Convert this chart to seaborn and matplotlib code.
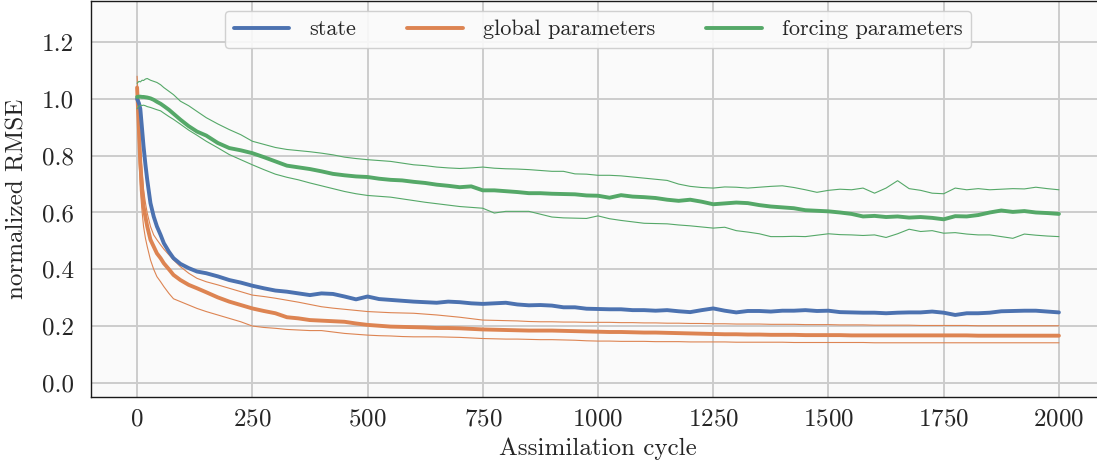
import matplotlib

matplotlib.use("Agg")

import matplotlib.pyplot as plt
import numpy as np
import pandas as pd
import seaborn as sns

cycles = [0, 4, 7, 11, 14, 18, 22, 29, 36, 43, 51, 58, 69, 79, 94, 112, 130, 150] + list(range(175, 2001, 25))

state = [
    1.000, 0.985, 0.965, 0.890, 0.833, 0.770, 0.715, 0.633, 0.586, 0.551, 0.521, 0.492, 0.462, 0.439, 0.419, 0.404, 0.392, 0.386,
    0.375, 0.362, 0.353, 0.342, 0.333, 0.325, 0.321, 0.315, 0.309, 0.315, 0.313, 0.304, 0.294, 0.304, 0.295,
    0.292, 0.289, 0.286, 0.284, 0.282, 0.286, 0.284, 0.280, 0.278, 0.280, 0.282, 0.276, 0.273, 0.274, 0.272,
    0.266, 0.266, 0.261, 0.260, 0.259, 0.259, 0.256, 0.256, 0.254, 0.256, 0.252, 0.249, 0.256, 0.262, 0.254,
    0.248, 0.253, 0.253, 0.251, 0.254, 0.254, 0.256, 0.253, 0.254, 0.249, 0.248, 0.247, 0.247, 0.245, 0.247,
    0.248, 0.248, 0.251, 0.247, 0.239, 0.245, 0.245, 0.247, 0.252, 0.253, 0.254, 0.254, 0.251, 0.248,
]

global_mean = [
    1.040, 0.892, 0.774, 0.680, 0.621, 0.585, 0.551, 0.504, 0.480, 0.456, 0.439, 0.421, 0.400, 0.380, 0.362, 0.345, 0.333, 0.319,
    0.301, 0.286, 0.274, 0.262, 0.253, 0.245, 0.231, 0.227, 0.221, 0.219, 0.217, 0.215, 0.209, 0.204, 0.201,
    0.198, 0.197, 0.196, 0.195, 0.193, 0.193, 0.192, 0.190, 0.188, 0.187, 0.186, 0.185, 0.184, 0.184, 0.184,
    0.183, 0.182, 0.181, 0.180, 0.179, 0.179, 0.178, 0.177, 0.177, 0.176, 0.175, 0.174, 0.173, 0.172, 0.171,
    0.171, 0.170, 0.170, 0.169, 0.169, 0.169, 0.168, 0.168, 0.168, 0.168, 0.167, 0.167, 0.167, 0.167, 0.167,
    0.167, 0.167, 0.167, 0.167, 0.167, 0.167, 0.166, 0.166, 0.166, 0.166, 0.166, 0.166, 0.166, 0.166,
]

global_upper = [
    1.080, 0.950, 0.833, 0.740, 0.680, 0.635, 0.598, 0.551, 0.521, 0.504, 0.486, 0.471, 0.451, 0.433, 0.409, 0.386, 0.368, 0.356,
    0.345, 0.333, 0.321, 0.309, 0.304, 0.298, 0.291, 0.284, 0.276, 0.268, 0.263, 0.259, 0.255, 0.251, 0.249,
    0.247, 0.246, 0.245, 0.242, 0.239, 0.235, 0.231, 0.226, 0.221, 0.220, 0.219, 0.218, 0.216, 0.215, 0.215,
    0.214, 0.214, 0.213, 0.213, 0.213, 0.212, 0.212, 0.211, 0.211, 0.210, 0.210, 0.209, 0.209, 0.208, 0.208,
    0.207, 0.207, 0.207, 0.206, 0.206, 0.206, 0.205, 0.205, 0.205, 0.204, 0.204, 0.204, 0.203, 0.203, 0.203,
    0.203, 0.202, 0.202, 0.202, 0.202, 0.202, 0.201, 0.201, 0.201, 0.201, 0.201, 0.201, 0.201, 0.201,
]

global_lower = [
    1.000, 0.800, 0.680, 0.600, 0.551, 0.510, 0.480, 0.433, 0.400, 0.374, 0.356, 0.339, 0.315, 0.296, 0.286, 0.274, 0.262, 0.251,
    0.239, 0.227, 0.215, 0.200, 0.195, 0.192, 0.188, 0.186, 0.184, 0.184, 0.179, 0.174, 0.171, 0.168, 0.166,
    0.165, 0.163, 0.162, 0.162, 0.162, 0.161, 0.160, 0.158, 0.156, 0.155, 0.154, 0.154, 0.153, 0.152, 0.152,
    0.151, 0.150, 0.148, 0.147, 0.147, 0.146, 0.146, 0.146, 0.145, 0.145, 0.145, 0.144, 0.144, 0.144, 0.144,
    0.143, 0.143, 0.143, 0.143, 0.143, 0.142, 0.142, 0.142, 0.142, 0.142, 0.142, 0.142, 0.141, 0.141, 0.141,
    0.141, 0.141, 0.141, 0.141, 0.141, 0.141, 0.141, 0.141, 0.141, 0.141, 0.141, 0.141, 0.141, 0.141,
]

forcing_mean = [
    1.007, 1.008, 1.008, 1.007, 1.007, 1.006, 1.005, 1.002, 0.997, 0.990, 0.983, 0.975, 0.962, 0.948, 0.927, 0.904, 0.885, 0.871,
    0.845, 0.827, 0.819, 0.809, 0.795, 0.780, 0.765, 0.759, 0.753, 0.745, 0.736, 0.731, 0.727, 0.725, 0.719,
    0.715, 0.713, 0.708, 0.704, 0.698, 0.694, 0.689, 0.692, 0.678, 0.678, 0.675, 0.672, 0.668, 0.668, 0.666,
    0.665, 0.664, 0.660, 0.659, 0.652, 0.661, 0.656, 0.654, 0.651, 0.645, 0.641, 0.645, 0.638, 0.629, 0.632,
    0.635, 0.633, 0.626, 0.621, 0.618, 0.615, 0.608, 0.606, 0.604, 0.600, 0.595, 0.586, 0.588, 0.584, 0.586,
    0.582, 0.584, 0.581, 0.576, 0.587, 0.586, 0.591, 0.600, 0.607, 0.602, 0.605, 0.600, 0.598, 0.595,
]

forcing_upper = [
    1.055, 1.062, 1.060, 1.066, 1.065, 1.070, 1.072, 1.066, 1.062, 1.058, 1.050, 1.040, 1.027, 1.015, 0.992, 0.976, 0.956, 0.934,
    0.912, 0.892, 0.874, 0.851, 0.840, 0.829, 0.822, 0.818, 0.814, 0.809, 0.803, 0.795, 0.790, 0.786, 0.783,
    0.780, 0.774, 0.768, 0.765, 0.760, 0.757, 0.755, 0.757, 0.760, 0.756, 0.754, 0.753, 0.751, 0.748, 0.745,
    0.745, 0.736, 0.735, 0.731, 0.731, 0.729, 0.725, 0.721, 0.717, 0.713, 0.700, 0.692, 0.688, 0.686, 0.690,
    0.689, 0.686, 0.689, 0.692, 0.694, 0.688, 0.680, 0.671, 0.678, 0.682, 0.680, 0.686, 0.668, 0.686, 0.712,
    0.684, 0.678, 0.668, 0.666, 0.686, 0.680, 0.684, 0.680, 0.682, 0.684, 0.683, 0.689, 0.684, 0.680,
]

forcing_lower = [
    0.965, 0.975, 0.978, 0.977, 0.978, 0.976, 0.973, 0.970, 0.966, 0.962, 0.958, 0.950, 0.938, 0.928, 0.911, 0.890, 0.872, 0.851,
    0.828, 0.804, 0.786, 0.768, 0.751, 0.735, 0.724, 0.715, 0.704, 0.694, 0.684, 0.674, 0.666, 0.660, 0.657,
    0.654, 0.648, 0.642, 0.636, 0.631, 0.626, 0.621, 0.618, 0.615, 0.598, 0.604, 0.604, 0.604, 0.594, 0.584,
    0.581, 0.580, 0.579, 0.588, 0.578, 0.572, 0.567, 0.562, 0.561, 0.560, 0.556, 0.553, 0.549, 0.545, 0.548,
    0.536, 0.531, 0.525, 0.515, 0.515, 0.516, 0.515, 0.520, 0.525, 0.522, 0.521, 0.519, 0.521, 0.512, 0.525,
    0.541, 0.533, 0.536, 0.527, 0.529, 0.524, 0.521, 0.521, 0.515, 0.509, 0.524, 0.520, 0.517, 0.515,
]

sns.set_theme(
    style="whitegrid",
    rc={
        "axes.facecolor": "#fafafa",
        "axes.edgecolor": "#1a1a1a",
        "axes.linewidth": 1.0,
        "grid.color": "#cccccc",
        "grid.linewidth": 1.4,
        "axes.formatter.use_mathtext": True,
    },
)
plt.rcParams["font.family"] = ["cmr10", "DejaVu Serif"]
plt.rcParams["mathtext.fontset"] = "cm"

df = pd.DataFrame({
    "cycle": cycles,
    "state": state,
    "global_mean": global_mean,
    "global_upper": global_upper,
    "global_lower": global_lower,
    "forcing_mean": forcing_mean,
    "forcing_upper": forcing_upper,
    "forcing_lower": forcing_lower,
})

pal = sns.color_palette("deep")
c_state, c_global, c_forcing = pal[0], pal[1], pal[2]

fig = plt.figure(figsize=(10.97, 4.69), dpi=100)
ax = fig.add_axes([91 / 1097, 1 - 397 / 469, 1014 / 1097, 396 / 469])

thick, thin = 2.8, 0.8
sns.lineplot(data=df, x="cycle", y="global_upper", ax=ax, color=c_global, lw=thin, zorder=2)
sns.lineplot(data=df, x="cycle", y="global_lower", ax=ax, color=c_global, lw=thin, zorder=2)
sns.lineplot(data=df, x="cycle", y="global_mean", ax=ax, color=c_global, lw=thick, zorder=2)
sns.lineplot(data=df, x="cycle", y="state", ax=ax, color=c_state, lw=thick, zorder=3)
sns.lineplot(data=df, x="cycle", y="forcing_upper", ax=ax, color=c_forcing, lw=thin, zorder=4)
sns.lineplot(data=df, x="cycle", y="forcing_lower", ax=ax, color=c_forcing, lw=thin, zorder=4)
sns.lineplot(data=df, x="cycle", y="forcing_mean", ax=ax, color=c_forcing, lw=thick, zorder=4)

ax.set_xlim(-100, 2100)
ax.set_ylim(-0.05, 1.345)
ax.set_xticks([0, 250, 500, 750, 1000, 1250, 1500, 1750, 2000])
ax.set_yticks([0.0, 0.2, 0.4, 0.6, 0.8, 1.0, 1.2])
ax.set_yticklabels([f"{v:.1f}" for v in [0.0, 0.2, 0.4, 0.6, 0.8, 1.0, 1.2]])
ax.tick_params(axis="y", labelsize=18, pad=6)
ax.tick_params(axis="x", labelsize=18, pad=2)
ax.set_xlabel("Assimilation cycle", fontsize=18, labelpad=5)
ax.set_ylabel("normalized RMSE", fontsize=18, labelpad=10)
ax.spines["right"].set_visible(False)

handles = [
    plt.Line2D([], [], color=c_state, lw=thick),
    plt.Line2D([], [], color=c_global, lw=thick),
    plt.Line2D([], [], color=c_forcing, lw=thick),
]
ax.legend(
    handles,
    ["state", "global parameters", "forcing parameters"],
    loc="upper center",
    ncol=3,
    fontsize=16,
    handlelength=2.5,
    handletextpad=0.9,
    columnspacing=2.3,
    borderaxespad=0.45,
    frameon=True,
    fancybox=True,
    framealpha=0.9,
    edgecolor="#cccccc",
)

fig.savefig("out.png", dpi=100)
